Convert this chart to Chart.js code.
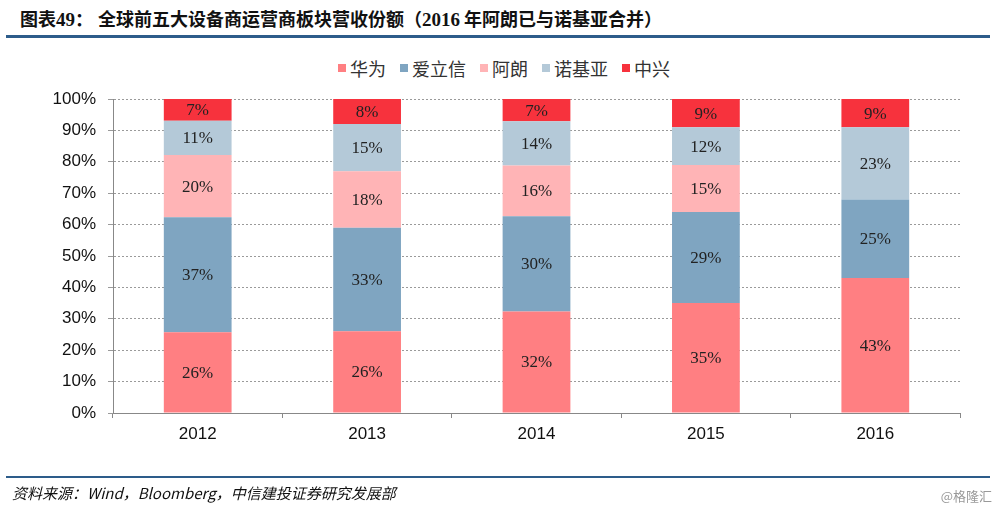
<!DOCTYPE html>
<html>
<head>
<meta charset="utf-8">
<script src="https://cdn.jsdelivr.net/npm/chart.js@4/dist/chart.umd.min.js"></script>
<style>
  body { margin: 0; background: #fff; }
  #wrap { position: relative; width: 1000px; height: 510px; overflow: hidden; }
  #chart { position: absolute; left: 0; top: 0; }
  .title { position: absolute; left: 20px; top: 5px; font: bold 18px "Noto Sans CJK SC", sans-serif; color: #111; white-space: nowrap; }
  .title .no { display: inline-block; width: 78px; }
  .title b { font-family: "Liberation Serif", serif; font-size: 19px; }
  .rule { position: absolute; left: 6px; width: 984px; background: #2d5c8a; }
  .legend { position: absolute; left: 338px; top: 55px; display: flex; font: 18px "Noto Sans CJK SC", sans-serif; color: #333; }
  .legend span { display: flex; align-items: center; margin-right: 14px; }
  .legend i { display: inline-block; width: 8px; height: 8px; margin-right: 4px; }
  .source { position: absolute; left: 12px; top: 482px; font: italic 15px "Noto Sans CJK SC", sans-serif; color: #111; }
  .mark { position: absolute; right: 8px; top: 486px; font: 13px "Noto Sans CJK SC", sans-serif; color: #999; }
</style>
</head>
<body>
<div id="wrap">
  <div class="title"><span class="no">图表<b>49</b>：</span>全球前五大设备商运营商板块营收份额（<b>2016</b> 年阿朗已与诺基亚合并）</div>
  <div class="rule" style="top:35px;height:3px"></div>
  <div class="legend" id="legend"></div>
  <canvas id="chart" width="1000" height="510"></canvas>
  <div class="rule" style="top:476px;height:2px"></div>
  <div class="source">资料来源：Wind，Bloomberg，中信建投证券研究发展部</div>
  <div class="mark">@格隆汇</div>
</div>
<script>
var years = ['2012', '2013', '2014', '2015', '2016'];
var vendors = ['华为', '爱立信', '阿朗', '诺基亚', '中兴'];
var huawei = [26, 26, 32, 35, 43];
var ericsson = [37, 33, 30, 29, 25];
var alcatel = [20, 18, 16, 15, 0];
var nokia = [11, 15, 14, 12, 23];
var zte = [7, 8, 7, 9, 9];
var yTicks = ['0%', '10%', '20%', '30%', '40%', '50%', '60%', '70%', '80%', '90%', '100%'];
var colors = ['#ff7f82', '#7fa5c1', '#ffb4b6', '#b4c9d8', '#f7323d'];

var series = [huawei, ericsson, alcatel, nokia, zte];

// 100% stacked: each column is scaled to its own total
function share(arr, i) {
    var total = 0;
    series.forEach(function (s) { total += s[i]; });
    return arr[i] / total * 100;
}

var legendHtml = '';
vendors.forEach(function (v, k) {
    legendHtml += '<span><i style="background:' + colors[k] + '"></i>' + v + '</span>';
});
document.getElementById('legend').innerHTML = legendHtml;

var datasets = series.map(function (s, k) {
    return {
        label: vendors[k],
        raw: s,
        data: s.map(function (v, i) { return share(s, i); }),
        backgroundColor: colors[k],
        borderWidth: 0,
        barPercentage: 0.4,
        categoryPercentage: 1
    };
});

var segmentLabels = {
    id: 'segmentLabels',
    afterDatasetsDraw: function (chart) {
        var ctx = chart.ctx;
        ctx.save();
        ctx.font = '17px "Liberation Serif", serif';
        ctx.fillStyle = '#222';
        ctx.textAlign = 'center';
        ctx.textBaseline = 'middle';
        chart.data.datasets.forEach(function (ds, k) {
            chart.getDatasetMeta(k).data.forEach(function (bar, i) {
                if (!ds.raw[i]) return;
                var mid = (bar.y + bar.base) / 2;
                ctx.fillText(ds.raw[i] + '%', bar.x, mid + 1);
            });
        });
        ctx.restore();
    }
};

new Chart(document.getElementById('chart'), {
    type: 'bar',
    data: { labels: years, datasets: datasets },
    options: {
        responsive: false,
        animation: false,
        layout: { padding: { top: 99, right: 40, left: 0, bottom: 0 } },
        plugins: { legend: { display: false }, tooltip: { enabled: false } },
        scales: {
            x: {
                stacked: true,
                grid: { drawOnChartArea: false, color: '#888', tickLength: 5, offset: true },
                border: { color: '#888', width: 1 },
                ticks: { color: '#111', font: { family: 'Liberation Sans', size: 17 }, padding: 6 },
                afterFit: function (scale) { scale.height = 97; }
            },
            y: {
                stacked: true,
                min: 0,
                max: 100,
                grid: { color: '#9a9a9a', tickLength: 5 },
                border: { color: '#888', width: 1, dash: [2, 2] },
                ticks: {
                    stepSize: 10,
                    color: '#111',
                    font: { family: 'Liberation Sans', size: 17 },
                    padding: 12,
                    callback: function (v) { return yTicks[Math.round(v / 10)]; }
                },
                afterFit: function (scale) { scale.width = 113; }
            }
        }
    },
    plugins: [segmentLabels]
});
</script>
</body>
</html>
